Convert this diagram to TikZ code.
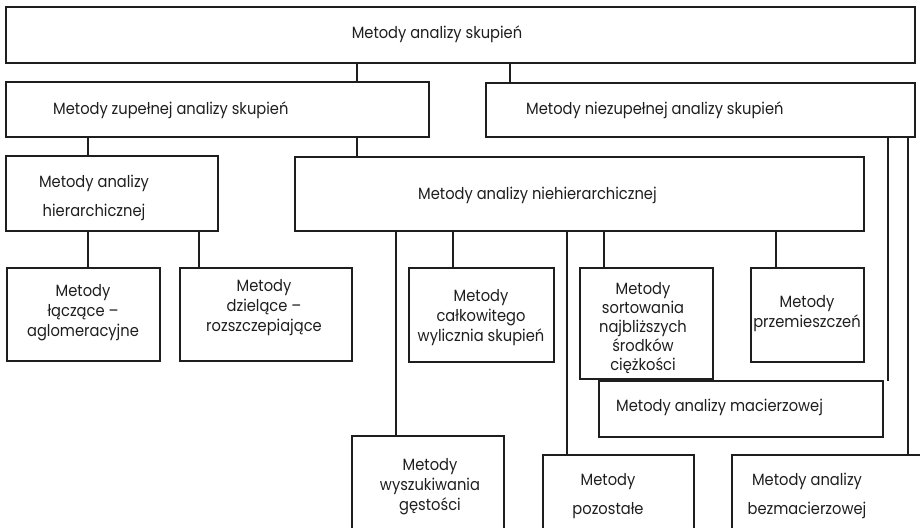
\documentclass[tikz,border=0pt]{standalone}
\usepackage{fontspec}
\setmainfont[FakeStretch=0.9]{Poppins}
\definecolor{ink}{HTML}{1E1E1E}
\begin{document}
\begin{tikzpicture}[x=1pt,y=-1pt,
  box/.style={draw=ink, line width=1.4pt, rectangle, inner sep=0pt, outer sep=0pt},
  txt/.style={inner sep=0pt, align=center, text=ink, font=\fontsize{16.3}{20}\selectfont},
  wide/.style={txt, font=\fontsize{16.3}{29}\selectfont},
  link/.style={draw=ink, line width=1.4pt}]
\useasboundingbox (0,0) rectangle (920,527);
\clip (0,0) rectangle (920,527);

% boxes
\node[box, minimum width=909pt, minimum height=56pt]  (top)   at (460.5,35)  {};
\node[box, minimum width=423pt, minimum height=55pt]  (zup)   at (217.5,109.5) {};
\node[box, minimum width=429pt, minimum height=54pt]  (niez)  at (700.5,110) {};
\node[box, minimum width=212pt, minimum height=75pt]  (hier)  at (112,193.5) {};
\node[box, minimum width=569pt, minimum height=74pt]  (nieh)  at (579.5,194) {};
\node[box, minimum width=153pt, minimum height=93pt]  (lacz)  at (83.5,314.5) {};
\node[box, minimum width=172pt, minimum height=93pt]  (dziel) at (266,314.5) {};
\node[box, minimum width=145pt, minimum height=94pt]  (calk)  at (481.5,315) {};
\node[box, minimum width=133pt, minimum height=111pt] (sort)  at (646.5,323.5) {};
\node[box, minimum width=113pt, minimum height=94pt]  (przem) at (807.5,315) {};
\node[box, minimum width=284pt, minimum height=56pt]  (mac)   at (741,409) {};
\node[box, minimum width=152pt, minimum height=124pt] (wysz)  at (428,498) {};
\node[box, minimum width=151pt, minimum height=105pt] (poz)   at (618.5,507.5) {};
\node[box, minimum width=198pt, minimum height=105pt] (bezm)  at (831,507.5) {};

% labels
\node[txt] (t-top) at (437,34) {Metody analizy skupień};
\node[txt, anchor=west] (t-zup) at (53,110) {Metody zupełnej analizy skupień};
\node[txt, anchor=west] (t-niez) at (526,110) {Metody niezupełnej analizy skupień};
\node[wide] (t-hier) at (94,198) {Metody analizy\\hierarchicznej};
\node[txt, anchor=west] (t-nieh) at (418,195) {Metody analizy niehierarchicznej};
\node[txt] (t-lacz) at (83,313) {Metody\\łączące –\\aglomeracyjne};
\node[txt] (t-dziel) at (264,308) {Metody\\dzielące –\\rozszczepiające};
\node[txt] (t-calk) at (481,318) {Metody\\całkowitego\\wylicznia skupień};
\node[txt, font=\fontsize{16.3}{19}\selectfont] (t-sort) at (643,328) {Metody\\sortowania\\najbliższych\\środków\\ciężkości};
\node[txt] (t-przem) at (807,314) {Metody\\przemieszczeń};
\node[txt, anchor=west] (t-mac) at (616,407) {Metody analizy macierzowej};
\node[txt] (t-wysz) at (430,487) {Metody\\wyszukiwania\\gęstości};
\node[wide] (t-poz) at (608,496) {Metody\\pozostałe};
\node[wide] (t-bezm) at (807,496) {Metody analizy\\bezmacierzowej};

% connector columns
\coordinate (ca) at (357,0);
\coordinate (cb) at (510,0);
\coordinate (cc) at (88,0);
\coordinate (cd) at (199,0);
\coordinate (ce) at (396,0);
\coordinate (cf) at (453,0);
\coordinate (cg) at (567,0);
\coordinate (ch) at (604,0);
\coordinate (ci) at (776,0);
\coordinate (cj) at (888,0);
\coordinate (ck) at (908,0);

% connectors
\draw[link] (top.south -| ca) -- (zup.north -| ca);
\draw[link] (top.south -| cb) -- (niez.north -| cb);
\draw[link] (zup.south -| cc) -- (hier.north -| cc);
\draw[link] (zup.south -| ca) -- (nieh.north -| ca);
\draw[link] (hier.south -| cc) -- (lacz.north -| cc);
\draw[link] (hier.south -| cd) -- (dziel.north -| cd);
\draw[link] (nieh.south -| ce) -- (wysz.north -| ce);
\draw[link] (nieh.south -| cf) -- (calk.north -| cf);
\draw[link] (nieh.south -| cg) -- (poz.north -| cg);
\draw[link] (nieh.south -| ch) -- (sort.north -| ch);
\draw[link] (nieh.south -| ci) -- (przem.north -| ci);
\draw[link] (niez.south -| cj) -- (mac.north -| cj);
\draw[link] (niez.south -| ck) -- (bezm.north -| ck);
\end{tikzpicture}
\end{document}
